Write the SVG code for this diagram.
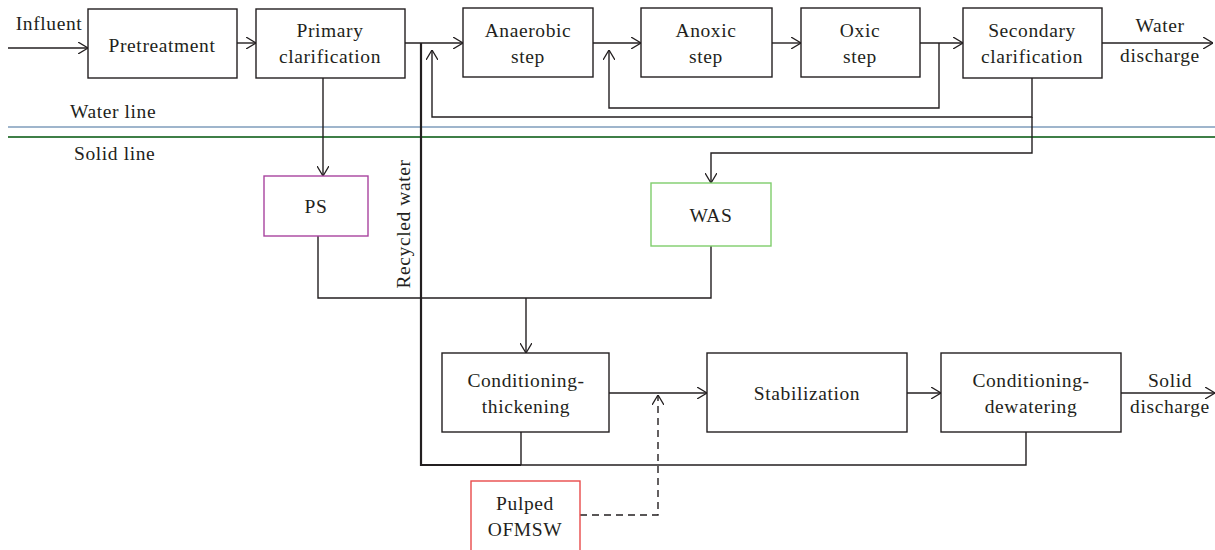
<svg xmlns="http://www.w3.org/2000/svg" width="1215" height="550" viewBox="0 0 1215 550">
<defs>
<marker id="arr" viewBox="0 0 10 12" refX="10" refY="6" markerWidth="10" markerHeight="12" markerUnits="userSpaceOnUse" orient="auto">
<path d="M0,0 L10,6 L0,12" fill="none" stroke="#231f20" stroke-width="1.3"/>
</marker>
</defs>
<style>
.box{fill:#fff;stroke:#231f20;stroke-width:1.4}
.t{font-family:'Liberation Serif','Times New Roman','DejaVu Serif',serif;font-size:19.5px;fill:#231f20;letter-spacing:0.6px}
.m{text-anchor:middle}
.c{fill:none;stroke:#231f20;stroke-width:1.4}
.thick{stroke-width:2.2}
.dash{stroke-dasharray:7,5}
</style>
<rect width="1215" height="550" fill="#fff"/>
<g id="separators">
<line x1="8" y1="127" x2="1215" y2="127" stroke="#7f9dbb" stroke-width="1.4"/>
<line x1="8" y1="137" x2="1215" y2="137" stroke="#3f7f47" stroke-width="2"/>
<text class="t" x="70" y="118" font-family="Liberation Serif, serif">Water line</text>
<text class="t" x="74" y="160" font-family="Liberation Serif, serif">Solid line</text>
</g>
<g id="connectors">
<path class="c" d="M8,48 H88" marker-end="url(#arr)"/>
<path class="c" d="M237,43 H256" marker-end="url(#arr)"/>
<path class="c" d="M405,43 H463" marker-end="url(#arr)"/>
<path class="c" d="M593,43 H641" marker-end="url(#arr)"/>
<path class="c" d="M772,43 H801" marker-end="url(#arr)"/>
<path class="c" d="M920,43 H963" marker-end="url(#arr)"/>
<path class="c" d="M1102,43 H1213" marker-end="url(#arr)"/>
<path class="c" d="M1032,78 V117 H432 V50" marker-end="url(#arr)"/>
<path class="c" d="M939,43 V108 H609 V50" marker-end="url(#arr)"/>
<path class="c" d="M1032,117 V153 H711 V183" marker-end="url(#arr)"/>
<path class="c" d="M323,78 V176" marker-end="url(#arr)"/>
<path class="c" d="M318,236 V298 H711 V246"/>
<path class="c" d="M526,298 V353" marker-end="url(#arr)"/>
<path class="c thick" d="M421,43 V465 H521"/>
<path class="c" d="M521,432 V465 H1026 V432"/>
<path class="c" d="M609,393 H707" marker-end="url(#arr)"/>
<path class="c" d="M907,393 H941" marker-end="url(#arr)"/>
<path class="c" d="M1121,393 H1215" marker-end="url(#arr)"/>
<path class="c dash" d="M580,515 H658 V395" marker-end="url(#arr)"/>
</g>
<g id="labels">
<text class="t m" x="49" y="30">Influent</text>
<text class="t m" x="1160" y="32">Water</text>
<text class="t m" x="1160" y="62">discharge</text>
<text class="t m" x="1170" y="387">Solid</text>
<text class="t m" x="1170" y="413">discharge</text>
<text class="t m" transform="translate(410,224) rotate(-90)">Recycled water</text>
</g>
<g id="pretreatment"><rect class="box" x="88" y="9" width="149" height="69"/><text class="t m" x="162" y="52">Pretreatment</text></g>
<g id="primary"><rect class="box" x="256" y="9" width="149" height="69"/><text class="t m" x="330" y="37">Primary</text><text class="t m" x="330" y="63">clarification</text></g>
<g id="anaerobic"><rect class="box" x="463" y="8" width="130" height="69"/><text class="t m" x="528" y="37">Anaerobic</text><text class="t m" x="528" y="63">step</text></g>
<g id="anoxic"><rect class="box" x="641" y="8" width="131" height="69"/><text class="t m" x="706" y="37">Anoxic</text><text class="t m" x="706" y="63">step</text></g>
<g id="oxic"><rect class="box" x="801" y="8" width="119" height="69"/><text class="t m" x="860" y="37">Oxic</text><text class="t m" x="860" y="63">step</text></g>
<g id="secondary"><rect class="box" x="963" y="8" width="139" height="70"/><text class="t m" x="1032" y="37">Secondary</text><text class="t m" x="1032" y="63">clarification</text></g>
<g id="ps"><rect class="box" x="264" y="176" width="104" height="60" style="stroke:#a8449f"/><text class="t m" x="316" y="213">PS</text></g>
<g id="was"><rect class="box" x="651" y="183" width="120" height="63" style="stroke:#7fcd6c"/><text class="t m" x="711" y="222">WAS</text></g>
<g id="thickening"><rect class="box" x="442" y="353" width="167" height="79"/><text class="t m" x="526" y="387">Conditioning-</text><text class="t m" x="526" y="413">thickening</text></g>
<g id="stabilization"><rect class="box" x="707" y="353" width="200" height="79"/><text class="t m" x="807" y="400">Stabilization</text></g>
<g id="dewatering"><rect class="box" x="941" y="353" width="180" height="79"/><text class="t m" x="1031" y="387">Conditioning-</text><text class="t m" x="1031" y="413">dewatering</text></g>
<g id="ofmsw"><rect class="box" x="471" y="481" width="109" height="72" style="stroke:#e84a4a"/><text class="t m" x="525" y="510">Pulped</text><text class="t m" x="525" y="536">OFMSW</text></g>
</svg>
